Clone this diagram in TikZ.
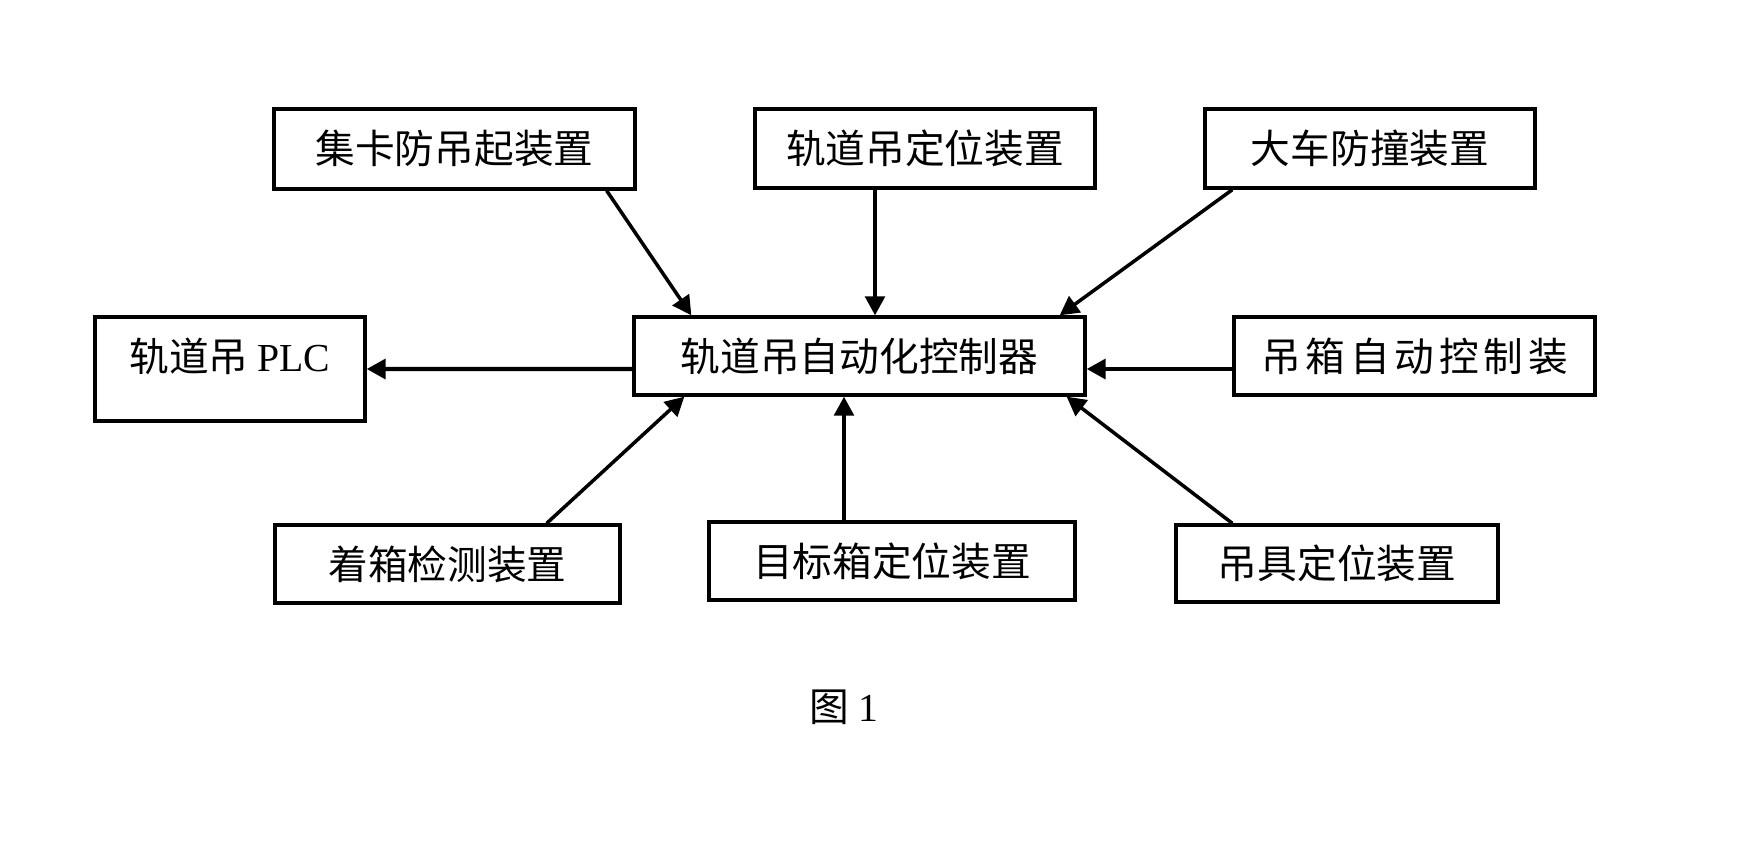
\documentclass[tikz,border=0pt]{standalone}
\usepackage{fontspec}
\setmainfont{Liberation Serif}
\newfontfamily\cjk{Noto Sans CJK SC}
\newfontfamily\cjkwide[LetterSpace=12]{Noto Sans CJK SC}
\usetikzlibrary{arrows.meta}

\begin{document}
\begin{tikzpicture}[
  box/.style={draw, line width=0.95pt, inner sep=0pt, font=\fontsize{11.3}{13}\selectfont\cjk},
  arr/.style={line width=1pt, -{Triangle[length=5.4pt,width=5.6pt]}},
  harr/.style={arr, line width=1.25pt}]
\useasboundingbox (0,0) rectangle (17.38,8.62);

\node[box, minimum width=3.61cm, minimum height=0.80cm] (jika) at (4.545,7.13) {集卡防吊起装置};
\node[box, minimum width=3.40cm, minimum height=0.79cm] (guiding) at (9.25,7.135) {轨道吊定位装置};
\node[box, minimum width=3.30cm, minimum height=0.79cm] (dache) at (13.70,7.135) {大车防撞装置};
\node[box, minimum width=2.70cm, minimum height=1.04cm, text height=0.35cm, text depth=0.30cm] (plc) at (2.30,4.93) {轨道吊 {\rmfamily PLC}};
\node[box, minimum width=4.51cm, minimum height=0.78cm] (ctrl) at (8.595,5.06) {轨道吊自动化控制器};
\node[box, minimum width=3.61cm, minimum height=0.78cm] (diaoxiang) at (14.145,5.06) {\cjkwide 吊箱自动控制装};
\node[box, minimum width=3.45cm, minimum height=0.78cm] (zhuoxiang) at (4.475,2.98) {着箱检测装置};
\node[box, minimum width=3.66cm, minimum height=0.78cm] (mubiao) at (8.92,3.01) {目标箱定位装置};
\node[box, minimum width=3.22cm, minimum height=0.77cm] (diaoju) at (13.37,2.985) {吊具定位装置};
\node[font=\fontsize{11.3}{13}\selectfont] (fig) at (8.44,1.55) {{\cjk 图} 1};

\draw[arr] ([xshift=-3mm]jika.south east) -- ([xshift=5.9mm]ctrl.north west);
\draw[arr] ([xshift=-5mm]guiding.south) -- ([xshift=-5mm]guiding.south |- ctrl.north);
\draw[arr] ([xshift=2.9mm]dache.south west) -- ([xshift=-2.7mm]ctrl.north east);
\draw[harr] ([yshift=-1.3mm]diaoxiang.west) -- ([yshift=-1.3mm]ctrl.east);
\draw[harr] ([yshift=-1.3mm]ctrl.west) -- (plc.east);
\draw[arr] ([xshift=-7.5mm]zhuoxiang.north east) -- ([xshift=5.2mm]ctrl.south west);
\draw[arr] ([xshift=-4.8mm]mubiao.north) -- ([xshift=-4.8mm]mubiao.north |- ctrl.south);
\draw[arr] ([xshift=5.8mm]diaoju.north west) -- ([xshift=-2mm]ctrl.south east);
\end{tikzpicture}
\end{document}
